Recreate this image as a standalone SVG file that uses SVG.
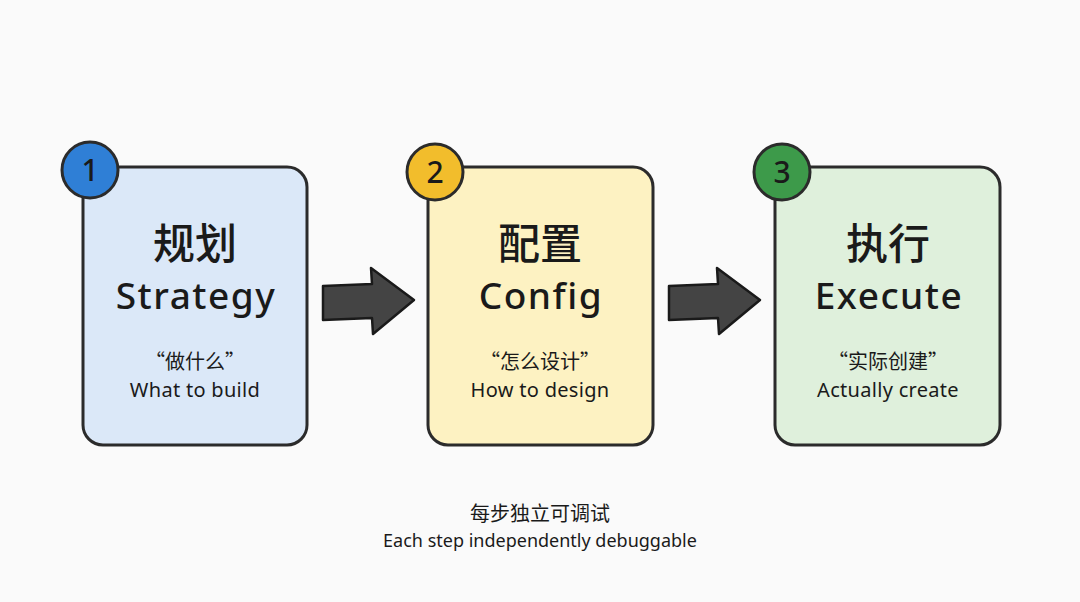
<svg xmlns="http://www.w3.org/2000/svg" width="1080" height="602" viewBox="0 0 1080 602">
<defs>
<style>
.box{stroke:#2b2b2b;stroke-width:3;}
.badge{stroke:#2b2b2b;stroke-width:3;}
.num{font-family:"Noto Sans","Noto Sans CJK SC",sans-serif;font-size:30px;fill:#1a1a1a;text-anchor:middle;font-weight:500;}
.zh{font-family:"Noto Sans CJK SC",sans-serif;font-size:42px;fill:#1a1a1a;text-anchor:middle;font-weight:500;}
.en{font-family:"Noto Sans","Noto Sans CJK SC",sans-serif;font-size:37px;fill:#1a1a1a;text-anchor:middle;letter-spacing:1.5px;font-weight:500;}
.q{font-family:"Noto Sans CJK SC",sans-serif;font-size:20px;fill:#1a1a1a;text-anchor:middle;}
.s{font-family:"Noto Sans","Noto Sans CJK SC",sans-serif;font-size:20px;fill:#1a1a1a;text-anchor:middle;letter-spacing:0.3px;}
.arrow{fill:#444;stroke:#1a1a1a;stroke-width:2.5;stroke-linejoin:round;}
.foot{font-family:"Noto Sans CJK SC",sans-serif;font-size:20px;fill:#1a1a1a;text-anchor:middle;}
.foot-en{font-family:"Noto Sans","Noto Sans CJK SC",sans-serif;font-size:18px;fill:#1a1a1a;text-anchor:middle;}
</style>
</defs>
<rect width="1080" height="602" fill="#fafafa"/>
<g id="connectors">
<path class="arrow" d="M323 286 L372 284 L371 268 L414 300 L373 334 L372 318 L323 320 Z"/>
<path class="arrow" d="M669 286 L718 284 L717 268 L760 300 L719 334 L718 318 L669 320 Z"/>
</g>
<g id="node-1">
<rect class="box" x="83" y="167" width="224" height="278" rx="20" fill="#dbe8f8"/>
<circle class="badge" cx="90" cy="170" r="28" fill="#2f7fd6"/>
<text class="num" x="90" y="181">1</text>
<text class="zh" x="195" y="259">规划</text>
<text class="en" x="196" y="309">Strategy</text>
<text class="q" x="195" y="369">“做什么”</text>
<text class="s" x="195" y="397">What to build</text>
</g>
<g id="node-2">
<rect class="box" x="428" y="167" width="225" height="278" rx="20" fill="#fdf2c2"/>
<circle class="badge" cx="435" cy="172" r="28" fill="#f2bd2c"/>
<text class="num" x="435" y="183">2</text>
<text class="zh" x="540" y="259">配置</text>
<text class="en" x="541" y="309">Config</text>
<text class="q" x="540" y="369">“怎么设计”</text>
<text class="s" x="540" y="397">How to design</text>
</g>
<g id="node-3">
<rect class="box" x="775" y="167" width="225" height="278" rx="20" fill="#dff0dc"/>
<circle class="badge" cx="782" cy="172" r="28" fill="#3d9a4a"/>
<text class="num" x="782" y="183">3</text>
<text class="zh" x="888" y="259">执行</text>
<text class="en" x="889" y="309">Execute</text>
<text class="q" x="888" y="369">“实际创建”</text>
<text class="s" x="888" y="397">Actually create</text>
</g>
<g id="footer">
<text class="foot" x="540" y="521">每步独立可调试</text>
<text class="foot-en" x="540" y="547">Each step independently debuggable</text>
</g>
</svg>
